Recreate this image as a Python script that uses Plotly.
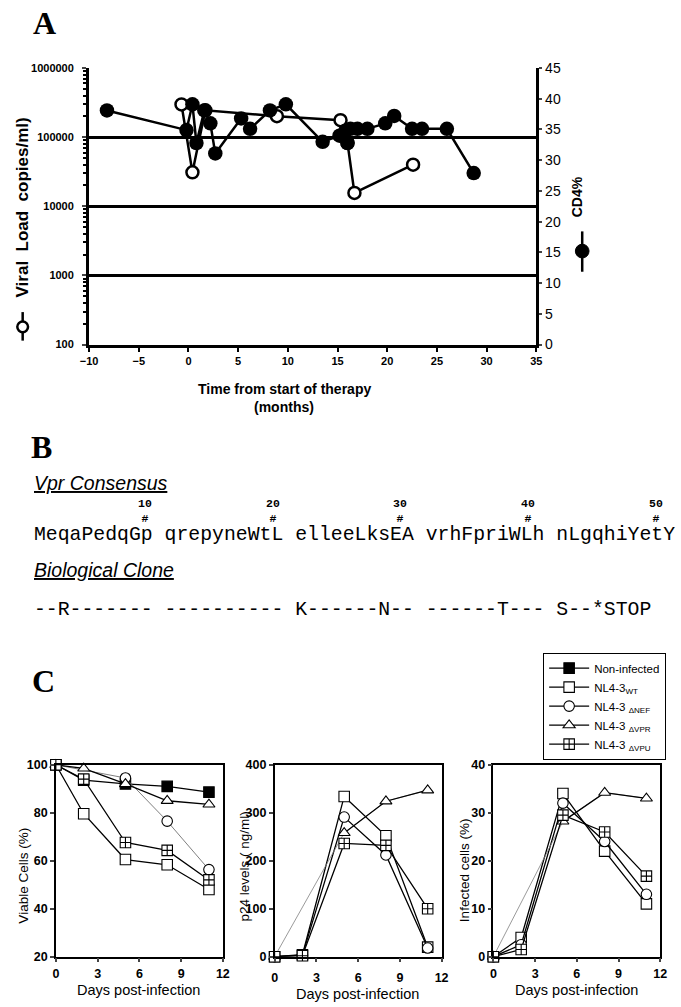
import plotly.graph_objects as go

W, H = 681, 1007

# ---------------- Panel A data ----------------
vl_months = [-0.7, 0.4, 1.7, 8.9, 15.3, 16.0, 16.7, 22.6]
vl_copies = [297000, 31000, 245000, 201000, 176000, 83000, 15600, 40000]

cd4_months = [-8.2, -0.2, 0.4, 0.8, 1.6, 2.2, 2.7, 5.3, 6.2, 8.2, 9.8, 13.5,
              15.2, 15.8, 16.0, 16.3, 17.0, 18.0, 19.8, 20.7, 22.5, 23.5, 26.0, 28.7]
cd4_pct = [38.1, 34.9, 39.1, 32.8, 38.1, 36.0, 31.1, 36.8, 35.1, 38.1, 39.1, 33.0,
           34.0, 34.8, 32.8, 35.1, 35.1, 35.1, 36.0, 37.2, 35.1, 35.1, 35.1, 27.9]

vl_ticks = [100, 1000, 10000, 100000, 1000000]
vl_ticktext = ["100", "1000", "10000", "100000", "1000000"]
month_ticks = [-10, -5, 0, 5, 10, 15, 20, 25, 30, 35]
cd4_ticks = [0, 5, 10, 15, 20, 25, 30, 35, 40, 45]

# ---------------- Panel B data ----------------
consensus = "MeqaPedqGp qrepyneWtL elleeLksEA vrhFpriWLh nLgqhiYetY"
clone = "--R------- ---------- K------N-- ------T--- S--*STOP"
position_labels = ["10", "20", "30", "40", "50"]

# ---------------- Panel C data ----------------
days = [0, 2, 5, 8, 11]
day_ticks = [0, 3, 6, 9, 12]
series_names = ["Non-infected", "NL4-3<sub>WT</sub>", "NL4-3 <sub>ΔNEF</sub>",
                "NL4-3 <sub>ΔVPR</sub>", "NL4-3 <sub>ΔVPU</sub>"]
viable_noninf = [100, 93.6, 92.0, 91.0, 88.6]
viable_wt = [100, 79.6, 60.5, 58.3, 48.0]
viable_nef = [100, None, 94.5, 76.5, 56.3]
viable_vpr = [100, 98.5, 92.0, 85.0, 83.5]
viable_vpu = [100, 94.0, 67.6, 64.3, 52.0]

p24_wt = [0, 4, 334, 252, 20]
p24_nef = [0, 3, 291, 212, 18]
p24_vpr = [0, None, 258, 324, 347]
p24_vpu = [0, 2, 236, 232, 100]

inf_wt = [0, 4.0, 34.0, 22.0, 11.0]
inf_nef = [0, 2.5, 32.0, 24.0, 13.0]
inf_vpr = [0, None, 28.2, 34.2, 33.0]
inf_vpu = [0, 1.5, 29.5, 26.0, 16.8]


def fx(p):
    return p / W


def fy(p):
    return 1 - p / H


fig = go.Figure()

# ---------- Panel A traces ----------
fig.add_trace(go.Scatter(
    x=vl_months, y=vl_copies, mode="lines+markers", xaxis="x", yaxis="y",
    line=dict(color="black", width=2.5),
    marker=dict(symbol="circle", size=12, color="white", line=dict(color="black", width=2.5)),
    showlegend=False, cliponaxis=False))
fig.add_trace(go.Scatter(
    x=cd4_months, y=cd4_pct, mode="lines+markers", xaxis="x", yaxis="y2",
    line=dict(color="black", width=2.5),
    marker=dict(symbol="circle", size=14.5, color="black"),
    showlegend=False, cliponaxis=False))

# ---------- Panel C traces ----------
symbols = ["square", "square", "circle", "triangle-up", "square-cross"]
fills = ["black", "white", "white", "white", "white"]
panels = [
    ("x3", "y3", [viable_noninf, viable_wt, viable_nef, viable_vpr, viable_vpu]),
    ("x4", "y4", [None, p24_wt, p24_nef, p24_vpr, p24_vpu]),
    ("x5", "y5", [None, inf_wt, inf_nef, inf_vpr, inf_vpu]),
]
for pi, (xa, ya, vals) in enumerate(panels):
    for si, yv in enumerate(vals):
        if yv is None:
            continue
        thin_all = (pi == 0 and si == 2)
        has_gap = any(v is None for v in yv)
        if has_gap and not thin_all:
            fig.add_trace(go.Scatter(
                x=days, y=yv, mode="lines", xaxis=xa, yaxis=ya, connectgaps=True,
                line=dict(color="#808080", width=0.8), showlegend=False, hoverinfo="skip"))
        if thin_all:
            line = dict(color="#707070", width=0.9)
            cg = True
        else:
            line = dict(color="black", width=1.3)
            cg = False
        show = (pi == 0 and si != 2) or (pi == 1 and si == 2)
        fig.add_trace(go.Scatter(
            x=days, y=yv, mode="lines+markers", xaxis=xa, yaxis=ya, connectgaps=cg,
            name=series_names[si], legendrank=si + 1,
            line=line,
            marker=dict(symbol=symbols[si], size=10.5, color=fills[si],
                        line=dict(color="black", width=1.1)),
            showlegend=show, cliponaxis=False))

# ---------- Axes ----------
A_x0, A_x1, A_top, A_bot = 82, 540, 61, 342
tickfontA = dict(family="Liberation Sans, Arial", size=11, color="black", weight="bold")

minor_vals = [m * 10 ** e for e in range(2, 6) for m in range(2, 10)]

layout = dict(
    width=W, height=H, margin=dict(l=0, r=0, t=0, b=0),
    paper_bgcolor="white", plot_bgcolor="white",
    font=dict(family="Liberation Sans, Arial", color="black"),
    xaxis=dict(domain=[fx(A_x0), fx(A_x1)], range=[-10, 35], tickvals=month_ticks,
               showline=True, linewidth=3, linecolor="black", ticks="outside",
               ticklen=4, tickwidth=2, tickcolor="black", showgrid=False, zeroline=False,
               tickfont=tickfontA, anchor="y"),
    yaxis=dict(domain=[fy(A_bot), fy(A_top)], type="log", range=[2, 6],
               tickvals=vl_ticks, ticktext=vl_ticktext, showline=True, linewidth=3,
               linecolor="black", ticks="outside", ticklen=4, tickwidth=2,
               showgrid=True, gridcolor="black", gridwidth=3, zeroline=False,
               tickfont=tickfontA, anchor="x", ticklabelstandoff=6,
               minor=dict(tickvals=minor_vals, ticks="outside", ticklen=3,
                          tickwidth=1.5, tickcolor="black", showgrid=False)),
    yaxis2=dict(domain=[fy(A_bot), fy(A_top)], range=[0, 45], tickvals=cd4_ticks,
                overlaying="y", side="right", anchor="x", showline=True, linewidth=3,
                linecolor="black", ticks="outside", ticklen=3, tickwidth=2,
                showgrid=False, zeroline=False,
                tickfont=dict(family="Liberation Sans, Arial", size=14, color="black")),
)

C_top, C_bot = 769, 964
C_ranges = [(48, 219, [20, 100], [20, 40, 60, 80, 100], 0),
            (272, 443, [0, 400], [0, 100, 200, 300, 400], 4),
            (496, 667, [0, 40], [0, 10, 20, 30, 40], 0)]
tickfontC = dict(family="Liberation Sans, Arial", size=12.5, color="black", weight="bold")
for i, (x0, x1, yr, yt, extra) in enumerate(C_ranges):
    n = i + 3
    layout[f"xaxis{n}"] = dict(domain=[fx(x0), fx(x1)], range=[0, 12], tickvals=day_ticks,
                               showline=True, mirror=True, linewidth=1.5, linecolor="black",
                               ticks="outside", ticklen=4, tickwidth=1.5, showgrid=False,
                               zeroline=False, tickfont=tickfontC, anchor=f"y{n}",
                               ticklabelstandoff=1 + extra)
    layout[f"yaxis{n}"] = dict(domain=[fy(C_bot), fy(C_top)], range=yr, tickvals=yt,
                               showline=True, mirror=True, linewidth=1.5, linecolor="black",
                               ticks="outside", ticklen=4, tickwidth=1.5, showgrid=False,
                               zeroline=False, tickfont=tickfontC, anchor=f"x{n}")

layout["legend"] = dict(x=fx(547), y=fy(655), xanchor="left", yanchor="top",
                        bordercolor="black", borderwidth=1, bgcolor="white",
                        font=dict(family="Liberation Sans, Arial", size=11.5, color="black"),
                        tracegroupgap=0, itemwidth=40)
fig.update_layout(**layout)

# ---------- Annotations ----------
ann = []


def text(x, y, s, size, family="Liberation Sans, Arial", angle=0, xanchor="center",
         yanchor="middle", **kw):
    ann.append(dict(x=fx(x), y=fy(y), xref="paper", yref="paper", text=s, showarrow=False,
                    textangle=angle, xanchor=xanchor, yanchor=yanchor, borderpad=0,
                    font=dict(family=family, size=size, color="black", **kw)))


serif = "Liberation Serif, Times New Roman"
text(36, 15, "<b>A</b>", 32, family=serif)
text(33, 446, "<b>B</b>", 32, family=serif)
text(35, 684, "<b>C</b>", 32, family=serif)

# Panel A titles
text(282, 387, "<b>Time from start of therapy</b>", 14)
text(282, 405, "<b>(months)</b>", 14)
text(14, 203, "<b>Viral  Load  copies/ml)</b>", 17, angle=-90)
text(582, 192, "<b>CD4%</b>", 14, angle=-90)

# Panel B
mono = "Courier New, Liberation Mono, monospace"
seq_x0, char_w = 25, 11.9
text(seq_x0, 483, "<i><u>Vpr Consensus</u></i>", 19.5, xanchor="left")
text(seq_x0, 536, consensus, 19.8, family=mono, xanchor="left")
num_idx = [i for i, c in enumerate(consensus) if c != " "]
for k, lab in enumerate(position_labels):
    ci = num_idx[(k + 1) * 10 - 1]
    cx = seq_x0 + 1 + (ci + 0.5) * char_w
    text(cx, 511, f"<b>{lab}</b><br><b>#</b>", 11.5, family=mono)
text(seq_x0, 571, "<i><u>Biological Clone</u></i>", 19.5, xanchor="left")
text(seq_x0, 612, clone, 19.8, family=mono, xanchor="left")

# Panel C titles
for cx, cy in [(133, 998), (357, 1002), (581, 998)]:
    text(cx, cy, "Days post-infection", 14.5)
text(15, 882, "Viable Cells (%)", 13.5, angle=-90)
text(241, 872, "p24 levels ( ng/ml)", 13.5, angle=-90)
text(466, 876, "Infected cells (%)", 13.5, angle=-90)

fig.update_layout(annotations=ann)

# ---------- legend glyphs for panel A axis titles ----------
shapes = []
shapes.append(dict(type="line", xref="paper", yref="paper", x0=fx(14), x1=fx(14),
                   y0=fy(309), y1=fy(338), line=dict(color="black", width=2.5)))
r = 5.5
shapes.append(dict(type="circle", xref="paper", yref="paper", x0=fx(14 - r), x1=fx(14 + r),
                   y0=fy(324 + r), y1=fy(324 - r), fillcolor="white",
                   line=dict(color="black", width=2.5)))
shapes.append(dict(type="line", xref="paper", yref="paper", x0=fx(587), x1=fx(587),
                   y0=fy(227), y1=fy(268), line=dict(color="black", width=2.5)))
r = 7
shapes.append(dict(type="circle", xref="paper", yref="paper", x0=fx(587 - r), x1=fx(587 + r),
                   y0=fy(247 + r), y1=fy(247 - r), fillcolor="black",
                   line=dict(color="black", width=1)))
fig.update_layout(shapes=shapes)

fig.write_html("out.html", config={"displayModeBar": False},
               post_script="document.body.style.margin='0px';")
